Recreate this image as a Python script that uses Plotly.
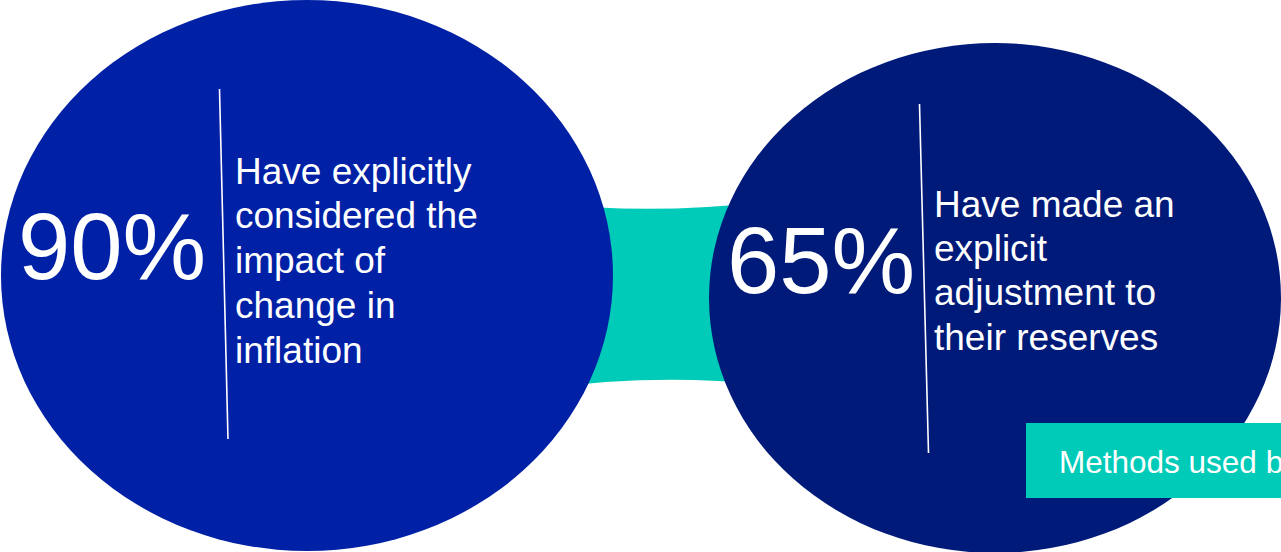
import plotly.graph_objects as go

# ---- data ----
percentages = [90, 65]
descriptions = [
    ["Have explicitly", "considered the", "impact of", "change in", "inflation"],
    ["Have made an", "explicit", "adjustment to", "their reserves"],
]
box_label = "Methods used by"

# ---- layout / style ----
W, H = 1281, 552
FONT = "Liberation Sans, Arial, sans-serif"
circle_colors = ["#0021A5", "#001A79"]
teal = "#00CBB8"

# ellipse extents (x0, x1, y0, y1) in pixel space
ellipses = [(1, 613, 0, 551), (709, 1281, 43, 553)]
# divider lines (x0, y0, x1, y1)
dividers = [(219.5, 89, 228, 439), (919.5, 104, 928.5, 453)]
# big number centres (x, baseline)
big_pos = [(111.5, 279), (820.5, 293)]
big_size = 94
# description text (x left, first baseline, line step)
desc_pos = [(233, 184, 44.75), (932, 217, 44.4)]
desc_size = 37
box_size = 31.5

shapes = []
# teal connector behind the circles
shapes.append(dict(
    type="path",
    path="M 540,203 Q 660,216 780,200 L 780,386 Q 660,372 540,389 Z",
    fillcolor=teal, line=dict(width=0), layer="above"))
for (x0, x1, y0, y1), c in zip(ellipses, circle_colors):
    shapes.append(dict(type="circle", x0=x0, x1=x1, y0=y0, y1=y1,
                       fillcolor=c, line=dict(width=0), layer="above"))
for (x0, y0, x1, y1) in dividers:
    shapes.append(dict(type="line", x0=x0, y0=y0, x1=x1, y1=y1,
                       line=dict(color="white", width=1.6), layer="above"))
# teal label box
shapes.append(dict(type="rect", x0=1026, x1=1300, y0=423, y1=498,
                   fillcolor=teal, line=dict(width=0), layer="above"))

annotations = []
asc_off = 0.3465  # baseline offset from middle, in em
for v, (x, base) in zip(percentages, big_pos):
    annotations.append(dict(x=x, y=base - asc_off * big_size, text=f"{v}%",
                            xanchor="center", yanchor="middle", showarrow=False,
                            font=dict(family=FONT, size=big_size, color="white")))
for lines, (x, b0, step) in zip(descriptions, desc_pos):
    for i, ln in enumerate(lines):
        annotations.append(dict(x=x, y=b0 + i * step - asc_off * desc_size, text=ln,
                                xanchor="left", yanchor="middle", showarrow=False,
                                font=dict(family=FONT, size=desc_size, color="white")))
annotations.append(dict(x=1057, y=473 - asc_off * box_size, text=box_label,
                        xanchor="left", yanchor="middle", showarrow=False,
                        font=dict(family=FONT, size=box_size, color="white")))

fig = go.Figure()
fig.add_trace(go.Scatter(x=[0, W], y=[0, H], mode="markers",
                         marker=dict(opacity=0), hoverinfo="skip", showlegend=False))
fig.update_layout(
    width=W, height=H, margin=dict(l=0, r=0, t=0, b=0),
    paper_bgcolor="white", plot_bgcolor="white",
    xaxis=dict(range=[0, W], visible=False, fixedrange=True),
    yaxis=dict(range=[H, 0], visible=False, fixedrange=True),
    shapes=shapes, annotations=annotations, showlegend=False,
)
fig.write_html("out.html", config={"displayModeBar": False})
